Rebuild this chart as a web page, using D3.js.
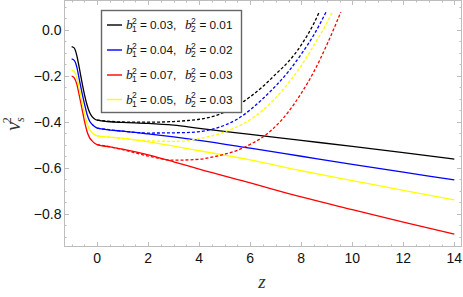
<!DOCTYPE html>
<html>
<head>
  <meta charset="utf-8" />
  <script src="https://d3js.org/d3.v7.min.js"></script>
  <style>
    * { margin: 0; padding: 0; }
    body { background: #fff; }
    svg { display: block; font-family: "Liberation Sans", Arial, sans-serif; }
  </style>
</head>
<body>
  <svg width="463" height="297"></svg>

  <script>
    // solid curves (z, v_s^2)
    const zSolid = [-1, -0.9, -0.8, -0.7, -0.6, -0.5, -0.4, -0.3, -0.2, -0.1, 0, 0.5, 1, 2, 3, 4, 6, 8, 10, 12, 14];
    const blackSolid  = [-0.072, -0.078, -0.11, -0.165, -0.225, -0.28, -0.325, -0.358, -0.377, -0.387, -0.392, -0.399, -0.402, -0.406, -0.414, -0.428, -0.454, -0.480, -0.506, -0.533, -0.561];
    const blueSolid   = [-0.126, -0.132, -0.16, -0.215, -0.27, -0.32, -0.365, -0.395, -0.41, -0.42, -0.427, -0.435, -0.440, -0.452, -0.465, -0.480, -0.514, -0.549, -0.584, -0.618, -0.652];
    const yellowSolid = [-0.174, -0.18, -0.205, -0.255, -0.31, -0.36, -0.405, -0.432, -0.447, -0.455, -0.46, -0.466, -0.471, -0.486, -0.505, -0.525, -0.565, -0.612, -0.655, -0.697, -0.739];
    const redSolid    = [-0.2, -0.208, -0.235, -0.285, -0.34, -0.395, -0.44, -0.468, -0.482, -0.492, -0.498, -0.508, -0.518, -0.543, -0.573, -0.605, -0.665, -0.726, -0.781, -0.835, -0.888];

    // dashed curves (they part from the solid ones and blow up)
    const zBlackDash = [0, 1, 2, 3, 3.5, 4, 4.5, 5, 5.5, 6, 6.5, 7, 7.5, 8, 8.5, 8.7];
    const blackDash  = [-0.392, -0.400, -0.401, -0.398, -0.394, -0.388, -0.377, -0.357, -0.328, -0.29, -0.245, -0.192, -0.137, -0.065, 0.03, 0.077];
    const zBlueDash  = [0, 1, 2, 3, 3.5, 4, 4.5, 5, 5.5, 6, 6.5, 7, 7.5, 8, 8.5, 8.97];
    const blueDash   = [-0.427, -0.44, -0.448, -0.447, -0.446, -0.442, -0.432, -0.414, -0.387, -0.347, -0.298, -0.243, -0.18, -0.105, -0.02, 0.078];
    const zYellowDash = [0, 1, 2, 3, 3.5, 4, 4.5, 5, 5.5, 6, 6.5, 7, 7.5, 8, 8.5, 9, 9.22];
    const yellowDash  = [-0.46, -0.472, -0.482, -0.484, -0.481, -0.472, -0.46, -0.443, -0.42, -0.39, -0.348, -0.295, -0.23, -0.155, -0.065, 0.03, 0.078];
    const zRedDash = [0, 1, 2, 3, 4, 4.5, 5, 5.5, 6, 6.5, 7, 7.5, 8, 8.5, 9, 9.55];
    const redDash  = [-0.498, -0.52, -0.548, -0.566, -0.562, -0.553, -0.54, -0.523, -0.497, -0.465, -0.418, -0.355, -0.275, -0.18, -0.065, 0.078];

    const colors = ["#000000", "#0000ff", "#ff0000", "#ffff00"];
    const b1 = ["0.03", "0.04", "0.07", "0.05"];
    const b2 = ["0.01", "0.02", "0.03", "0.03"];

    const xTicks = [0, 2, 4, 6, 8, 10, 12, 14];
    const yTicks = [0, -0.2, -0.4, -0.6, -0.8];

    const svg = d3.select("svg");
    const fLeft = 64, fRight = 462, fTop = 0, fBottom = 247;

    const x = d3.scaleLinear().domain([-1.3, 14.3]).range([fLeft, fRight]);
    const y = d3.scaleLinear().domain([-0.9435, 0.1304]).range([fBottom, fTop]);

    const frameColor = "#bdbdbd";

    // frame
    svg.append("rect")
      .attr("x", fLeft + 0.5).attr("y", fTop + 0.5)
      .attr("width", fRight - fLeft - 1).attr("height", fBottom - fTop - 1)
      .attr("fill", "none").attr("stroke", frameColor).attr("stroke-width", 1);

    // ticks on all four sides, pointing inward
    const xMinor = d3.range(-1, 14.01, 0.5);
    const yMinor = d3.range(-0.9, 0.101, 0.05);
    const isMajorX = v => Math.abs(v / 2 - Math.round(v / 2)) < 1e-6;
    const isMajorY = v => Math.abs(v / 0.2 - Math.round(v / 0.2)) < 1e-6;

    const tickG = svg.append("g").attr("stroke", frameColor).attr("stroke-width", 1);
    xMinor.forEach(v => {
      const len = isMajorX(v) ? 5 : 2.5;
      const px = Math.round(x(v)) + 0.5;
      tickG.append("line").attr("x1", px).attr("x2", px).attr("y1", fBottom).attr("y2", fBottom - len);
      tickG.append("line").attr("x1", px).attr("x2", px).attr("y1", fTop).attr("y2", fTop + len);
    });
    yMinor.forEach(v => {
      const len = isMajorY(v) ? 5 : 2.5;
      const py = Math.round(y(v)) + 0.5;
      tickG.append("line").attr("y1", py).attr("y2", py).attr("x1", fLeft).attr("x2", fLeft + len);
      tickG.append("line").attr("y1", py).attr("y2", py).attr("x1", fRight).attr("x2", fRight - len);
    });

    // tick labels
    svg.append("g").selectAll("text").data(xTicks).join("text")
      .attr("x", d => x(d)).attr("y", 263)
      .attr("text-anchor", "middle").attr("font-size", 14).attr("fill", "#111")
      .text(d => d);
    svg.append("g").selectAll("text").data(yTicks).join("text")
      .attr("x", 61.5).attr("y", d => y(d)).attr("dy", "0.36em")
      .attr("text-anchor", "end").attr("font-size", 14).attr("fill", "#111")
      .text(d => (d < 0 ? "\u2212" : "") + Math.abs(d).toFixed(1));

    // curves
    const line = d3.line().x(d => x(d[0])).y(d => y(d[1])).curve(d3.curveMonotoneX);
    const plotG = svg.append("g");
    const dashed = [[zBlackDash, blackDash], [zBlueDash, blueDash], [zRedDash, redDash], [zYellowDash, yellowDash]];
    const solid = [blackSolid, blueSolid, redSolid, yellowSolid];

    solid.forEach((vals, i) => {
      plotG.append("path")
        .attr("d", line(zSolid.map((z, j) => [z, vals[j]])))
        .attr("fill", "none").attr("stroke", colors[i]).attr("stroke-width", 1.3);
    });
    dashed.forEach(([zs, vals], i) => {
      plotG.append("path")
        .attr("d", line(zs.map((z, j) => [z, vals[j]])))
        .attr("fill", "none").attr("stroke", colors[i]).attr("stroke-width", 1.3)
        .attr("stroke-dasharray", "3,2");
    });

    // axis labels
    svg.append("text")
      .attr("x", 262).attr("y", 288)
      .attr("text-anchor", "middle")
      .attr("font-family", "'Liberation Serif', 'Times New Roman', serif")
      .attr("font-style", "italic").attr("font-size", 19).attr("fill", "#333")
      .text("z");

    const yl = svg.append("text")
      .attr("transform", "translate(20,124) rotate(-90)")
      .attr("text-anchor", "middle")
      .attr("font-family", "'Liberation Serif', 'Times New Roman', serif")
      .attr("font-style", "italic").attr("font-size", 20).attr("fill", "#333");
    yl.append("tspan").text("v");
    yl.append("tspan").attr("dy", 4).attr("font-size", 12).text("s");
    yl.append("tspan").attr("dx", -6).attr("dy", -13).attr("font-size", 12).attr("font-style", "normal").text("2");

    // legend
    const lg = svg.append("g");
    lg.append("rect")
      .attr("x", 101.5).attr("y", 10.5).attr("width", 140).attr("height", 102)
      .attr("fill", "#fff").attr("stroke", "#666").attr("stroke-width", 1.4);

    const rowY = [25, 50, 75, 99.5];
    function txt(px, py, str, size, italic) {
      const t = lg.append("text").attr("x", px).attr("y", py)
        .attr("font-size", size).attr("fill", "#111").text(str);
      if (italic) t.attr("font-style", "italic").attr("font-family", "'Liberation Serif', 'Times New Roman', serif");
    }
    function bTerm(px, base, sub) {
      txt(px, base, "b", 13.5, true);
      txt(px + 6, base - 5.5, "2", 8.5);
      txt(px + 6, base + 3, sub, 8.5);
    }
    rowY.forEach((ry, i) => {
      lg.append("line")
        .attr("x1", 107).attr("x2", 122).attr("y1", ry).attr("y2", ry)
        .attr("stroke", colors[i]).attr("stroke-width", 1.4);
      const base = ry + 4;
      bTerm(126, base, "1");
      txt(140, base, "=", 11.8);
      txt(150, base, b1[i] + ",", 11.8);
      bTerm(185, base, "2");
      txt(199.5, base, "=", 11.8);
      txt(209.5, base, b2[i], 11.8);
    });
  </script>
</body>
</html>
